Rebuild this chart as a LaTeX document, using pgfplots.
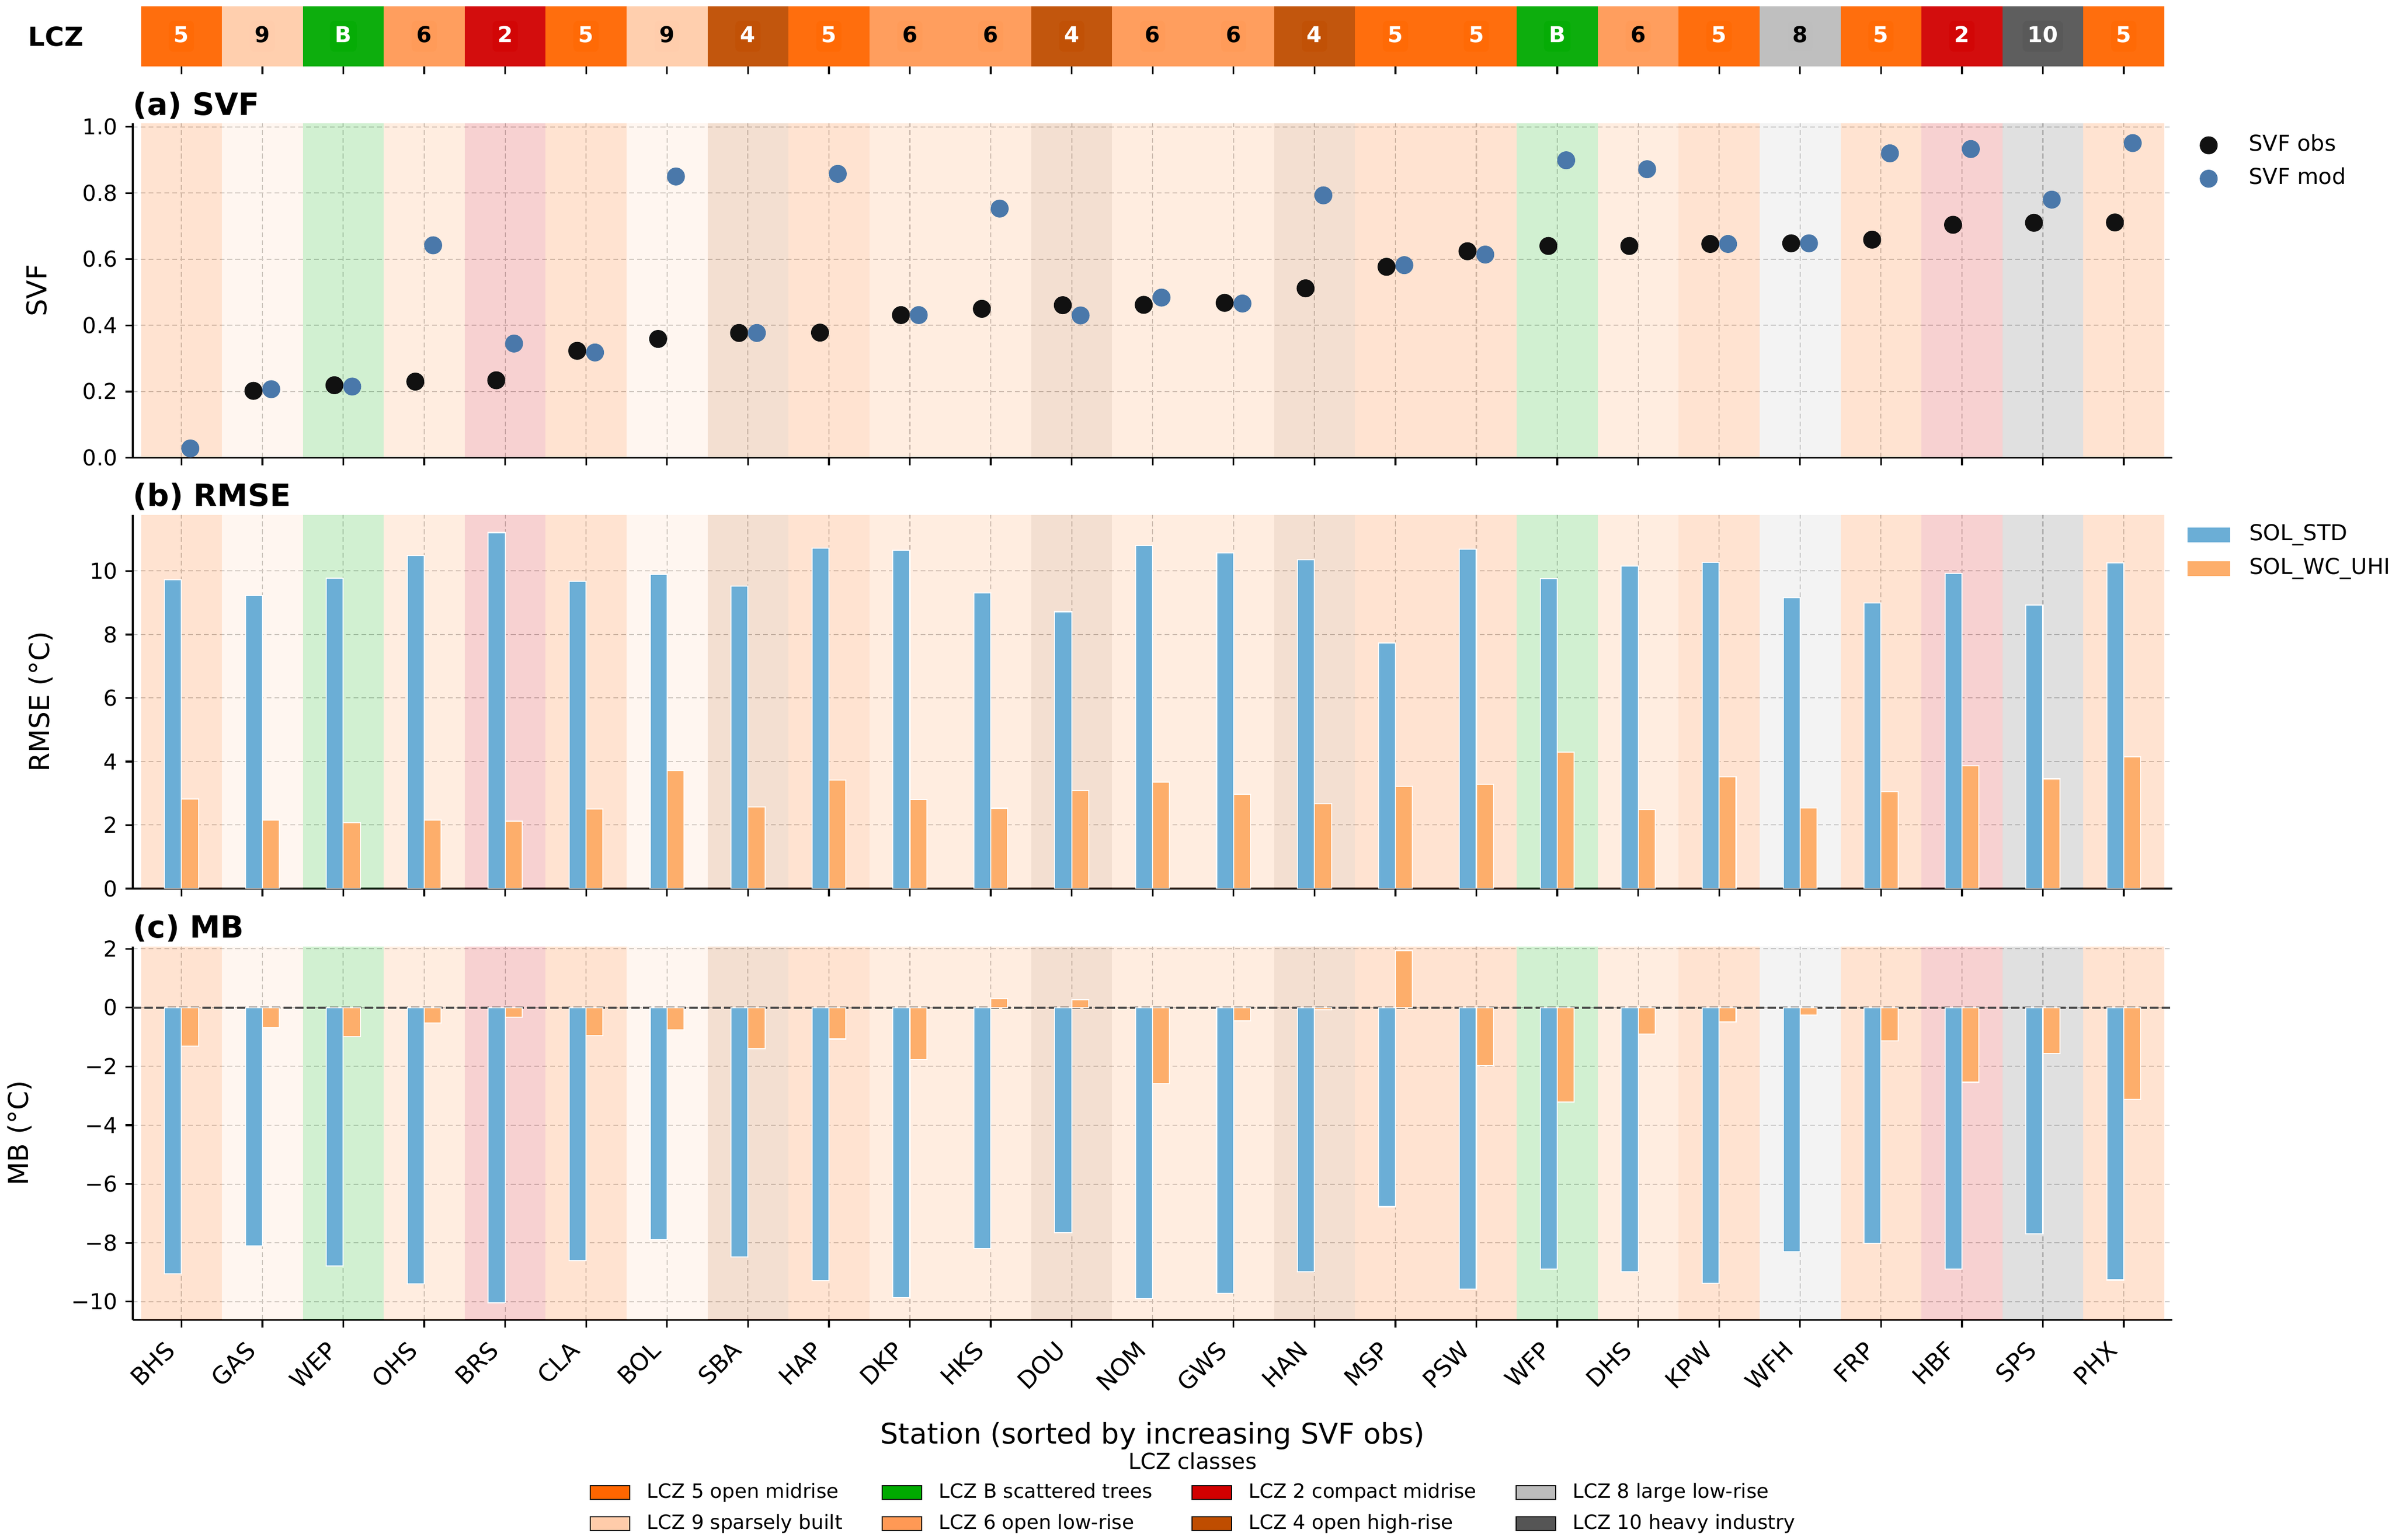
\documentclass[border=0pt]{standalone}
\usepackage{pgfplots}
\pgfplotsset{compat=1.18}
\usepackage{fontspec}
\setmainfont{DejaVu Sans}
\definecolor{lczfive}{HTML}{FF6600}
\definecolor{lcznine}{HTML}{FFCCAA}
\definecolor{lczB}{HTML}{00AA00}
\definecolor{lczsix}{HTML}{FF9955}
\definecolor{lcztwo}{HTML}{D10000}
\definecolor{lczfour}{HTML}{BF4D00}
\definecolor{lczeight}{HTML}{BCBCBC}
\definecolor{lczten}{HTML}{555555}
\definecolor{barblue}{HTML}{6BAED6}
\definecolor{barorange}{HTML}{FDAE6B}
\definecolor{svfobs}{HTML}{111111}
\definecolor{svfmod}{HTML}{4A78AA}
\definecolor{zeroline}{HTML}{444444}

% background band: color, x-left, x-right, opacity, ymin, ymax
\newcommand{\bandrect}[6]{\addplot[forget plot, draw=none, fill=#1, fill opacity=#4] coordinates {(#2,#5) (#3,#5) (#3,#6) (#2,#6)} -- cycle;}
\newcommand{\allbands}[3]{%
 \bandrect{lczfive}{-0.5}{0.5}{#1}{#2}{#3}
 \bandrect{lcznine}{0.5}{1.5}{#1}{#2}{#3}
 \bandrect{lczB}{1.5}{2.5}{#1}{#2}{#3}
 \bandrect{lczsix}{2.5}{3.5}{#1}{#2}{#3}
 \bandrect{lcztwo}{3.5}{4.5}{#1}{#2}{#3}
 \bandrect{lczfive}{4.5}{5.5}{#1}{#2}{#3}
 \bandrect{lcznine}{5.5}{6.5}{#1}{#2}{#3}
 \bandrect{lczfour}{6.5}{7.5}{#1}{#2}{#3}
 \bandrect{lczfive}{7.5}{8.5}{#1}{#2}{#3}
 \bandrect{lczsix}{8.5}{10.5}{#1}{#2}{#3}
 \bandrect{lczfour}{10.5}{11.5}{#1}{#2}{#3}
 \bandrect{lczsix}{11.5}{13.5}{#1}{#2}{#3}
 \bandrect{lczfour}{13.5}{14.5}{#1}{#2}{#3}
 \bandrect{lczfive}{14.5}{16.5}{#1}{#2}{#3}
 \bandrect{lczB}{16.5}{17.5}{#1}{#2}{#3}
 \bandrect{lczsix}{17.5}{18.5}{#1}{#2}{#3}
 \bandrect{lczfive}{18.5}{19.5}{#1}{#2}{#3}
 \bandrect{lczeight}{19.5}{20.5}{#1}{#2}{#3}
 \bandrect{lczfive}{20.5}{21.5}{#1}{#2}{#3}
 \bandrect{lcztwo}{21.5}{22.5}{#1}{#2}{#3}
 \bandrect{lczten}{22.5}{23.5}{#1}{#2}{#3}
 \bandrect{lczfive}{23.5}{24.5}{#1}{#2}{#3}
}

\pgfplotsset{
  panel/.style={
    scale only axis, width=32.767cm,
    xmin=-0.6, xmax=24.6,
    xtick={0,...,24},
    axis x line*=bottom, axis y line*=left,
    axis line style={-, black, line width=0.85pt},
    tick align=outside, major tick length=3.5pt,
    tick style={black, line width=0.8pt},
    xmajorgrids, ymajorgrids,
    major grid style={gray!45, line width=0.5pt, dash pattern=on 2.2pt off 1.4pt},
    tick label style={font=\fontsize{10}{12}\selectfont},
    every axis y label/.style={rotate=90, anchor=center, font=\fontsize{12.5}{15}\selectfont},
    every axis title/.style={at={(0,1)}, anchor=base west, yshift=3.8pt, inner sep=0pt, font=\bfseries\fontsize{14}{17}\selectfont},
  },
  sidelegend/.style={
    legend style={draw=none, fill=none, inner sep=0pt, anchor=north west,
      font=\fontsize{10}{12}\selectfont, row sep=0.185cm,
      nodes={inner sep=0pt, text height=0.75em, text depth=0.25em},
      /tikz/every odd column/.append style={column sep=0.29cm}},
    legend cell align=left,
  },
}

\begin{document}
\begin{tikzpicture}
\useasboundingbox (0,0) rectangle (38.431cm,24.740cm);

% ---------------- LCZ strip ----------------
\begin{axis}[scale only axis, width=32.767cm, height=0.971cm,
  at={(2.135cm,24.642cm)}, anchor=north west,
  xmin=-0.6, xmax=24.6, ymin=0, ymax=1,
  xtick={0,...,24}, xticklabels={}, ytick=\empty,
  axis x line*=bottom, axis y line*=left, axis line style={draw=none},
  tick align=outside, major tick length=3.5pt, xtick style={black, line width=0.8pt},
  ylabel={LCZ},
  every axis y label/.style={at={(axis description cs:-0.0205,0.5)}, anchor=east, font=\bfseries\fontsize{12}{14}\selectfont},
  every node near coord/.append style={anchor=center, font=\bfseries\fontsize{10}{12}\selectfont, inner sep=2.3pt, rounded corners=2pt, text height=0.75em, text depth=0.2em, fill opacity=0.55, text opacity=1},
]
\allbands{0.95}{0}{1}
\addplot[draw=none, mark=none, nodes near coords, point meta=explicit symbolic, every node near coord/.append style={text=white, fill=lczfive}]
  coordinates {(0,0.5)[5] (5,0.5)[5] (8,0.5)[5] (15,0.5)[5] (16,0.5)[5] (19,0.5)[5] (21,0.5)[5] (24,0.5)[5]};
\addplot[draw=none, mark=none, nodes near coords, point meta=explicit symbolic, every node near coord/.append style={text=black, fill=lcznine}]
  coordinates {(1,0.5)[9] (6,0.5)[9]};
\addplot[draw=none, mark=none, nodes near coords, point meta=explicit symbolic, every node near coord/.append style={text=white, fill=lczB}]
  coordinates {(2,0.5)[B] (17,0.5)[B]};
\addplot[draw=none, mark=none, nodes near coords, point meta=explicit symbolic, every node near coord/.append style={text=black, fill=lczsix}]
  coordinates {(3,0.5)[6] (9,0.5)[6] (10,0.5)[6] (12,0.5)[6] (13,0.5)[6] (18,0.5)[6]};
\addplot[draw=none, mark=none, nodes near coords, point meta=explicit symbolic, every node near coord/.append style={text=white, fill=lcztwo}]
  coordinates {(4,0.5)[2] (22,0.5)[2]};
\addplot[draw=none, mark=none, nodes near coords, point meta=explicit symbolic, every node near coord/.append style={text=white, fill=lczfour}]
  coordinates {(7,0.5)[4] (11,0.5)[4] (14,0.5)[4]};
\addplot[draw=none, mark=none, nodes near coords, point meta=explicit symbolic, every node near coord/.append style={text=black, fill=lczeight}]
  coordinates {(20,0.5)[8]};
\addplot[draw=none, mark=none, nodes near coords, point meta=explicit symbolic, every node near coord/.append style={text=white, fill=lczten}]
  coordinates {(23,0.5)[10]};
\end{axis}

% ---------------- (a) SVF ----------------
\begin{axis}[panel, sidelegend, height=5.373cm, at={(2.135cm,22.760cm)}, anchor=north west,
  ymin=0, ymax=1.011,
  ytick={0,0.2,0.4,0.6,0.8,1.0}, yticklabels={0.0,0.2,0.4,0.6,0.8,1.0},
  xticklabels={},
  ylabel={SVF}, ylabel style={at={(axis description cs:-0.0472,0.5)}},
  title={(a) SVF},
  legend style={at={(1.0067,0.968)}},
  legend image code/.code={\path (0cm,0cm) (0.70cm,0cm); \draw[#1] plot coordinates {(0.35cm,0cm)};},
]
\allbands{0.18}{0}{1.011}
\addplot[only marks, mark=*, mark size=3.9pt, color=svfobs, mark options={fill=svfobs, draw=svfobs}]
 coordinates {(0.89,0.202) (1.89,0.219) (2.89,0.230) (3.89,0.234) (4.89,0.323) (5.89,0.359)
 (6.89,0.377) (7.89,0.378) (8.89,0.431) (9.89,0.450) (10.89,0.461) (11.89,0.462) (12.89,0.468)
 (13.89,0.512) (14.89,0.577) (15.89,0.624) (16.89,0.640) (17.89,0.640) (18.89,0.646) (19.89,0.648)
 (20.89,0.659) (21.89,0.704) (22.89,0.710) (23.89,0.711)};
\addlegendentry{SVF obs}
\addplot[only marks, mark=*, mark size=3.9pt, color=svfmod, mark options={fill=svfmod, draw=svfmod}]
 coordinates {(0.11,0.028) (1.11,0.207) (2.11,0.215) (3.11,0.642) (4.11,0.345) (5.11,0.318)
 (6.11,0.850) (7.11,0.377) (8.11,0.858) (9.11,0.431) (10.11,0.753) (11.11,0.430) (12.11,0.484)
 (13.11,0.466) (14.11,0.793) (15.11,0.582) (16.11,0.614) (17.11,0.899) (18.11,0.872) (19.11,0.646)
 (20.11,0.648) (21.11,0.920) (22.11,0.933) (23.11,0.780) (24.11,0.951)};
\addlegendentry{SVF mod}
\end{axis}

% ---------------- (b) RMSE ----------------
\begin{axis}[panel, sidelegend, height=6.005cm, at={(2.135cm,16.470cm)}, anchor=north west,
  ymin=0, ymax=11.77,
  ytick={0,2,4,6,8,10}, yticklabels={0,2,4,6,8,10},
  xticklabels={},
  ylabel={RMSE (°C)}, ylabel style={at={(axis description cs:-0.0453,0.5)}},
  title={(b) RMSE},
  legend style={at={(1.0067,0.976)}},
  legend image code/.code={\fill[#1] (0cm,-0.127cm) rectangle (0.70cm,0.127cm);},
]
\allbands{0.18}{0}{11.77}
\addplot[ybar, bar width=0.21, bar shift=-0.105, fill=barblue, draw=white, line width=0.5pt]
 coordinates {(0,9.72) (1,9.22) (2,9.77) (3,10.49) (4,11.21) (5,9.68) (6,9.89) (7,9.53) (8,10.72)
 (9,10.66) (10,9.31) (11,8.72) (12,10.80) (13,10.57) (14,10.35) (15,7.74) (16,10.69) (17,9.75)
 (18,10.15) (19,10.27) (20,9.16) (21,8.99) (22,9.92) (23,8.93) (24,10.25)};
\addlegendentry{SOL\_STD}
\addplot[ybar, bar width=0.21, bar shift=0.105, fill=barorange, draw=white, line width=0.5pt]
 coordinates {(0,2.82) (1,2.15) (2,2.07) (3,2.16) (4,2.12) (5,2.51) (6,3.71) (7,2.57) (8,3.42)
 (9,2.80) (10,2.53) (11,3.09) (12,3.35) (13,2.97) (14,2.67) (15,3.22) (16,3.29) (17,4.30)
 (18,2.49) (19,3.52) (20,2.54) (21,3.06) (22,3.87) (23,3.46) (24,4.15)};
\addlegendentry{SOL\_WC\_UHI}
\end{axis}

% ---------------- (c) MB ----------------
\begin{axis}[panel, height=6.000cm, at={(2.135cm,9.536cm)}, anchor=north west,
  ymin=-10.62, ymax=2.08,
  ytick={-10,-8,-6,-4,-2,0,2}, yticklabels={−10,−8,−6,−4,−2,0,2},
  xticklabels={BHS,GAS,WEP,OHS,BRS,CLA,BOL,SBA,HAP,DKP,HKS,DOU,NOM,GWS,HAN,MSP,PSW,WFP,DHS,KPW,WFH,FRP,HBF,SPS,PHX},
  xticklabel style={font=\fontsize{11}{13}\selectfont, inner sep=0pt, anchor=base east, xshift=-2.2pt, yshift=-11.1pt, rotate=45},
  ylabel={MB (°C)}, ylabel style={at={(axis description cs:-0.0556,0.5)}},
  xlabel={Station (sorted by increasing SVF obs)},
  every axis x label/.style={at={(axis description cs:0.5,-0.332)}, anchor=base, font=\fontsize{13}{15}\selectfont},
  title={(c) MB},
]
\allbands{0.18}{-10.62}{2.08}
\addplot[forget plot, zeroline, line width=1pt, dash pattern=on 3.7pt off 1.6pt] coordinates {(-0.6,0) (24.6,0)};
\addplot[ybar, bar width=0.21, bar shift=-0.105, fill=barblue, draw=white, line width=0.5pt]
 coordinates {(0,-9.05) (1,-8.10) (2,-8.79) (3,-9.39) (4,-10.04) (5,-8.61) (6,-7.89) (7,-8.48)
 (8,-9.28) (9,-9.86) (10,-8.19) (11,-7.65) (12,-9.89) (13,-9.71) (14,-8.99) (15,-6.77) (16,-9.57)
 (17,-8.89) (18,-8.99) (19,-9.38) (20,-8.31) (21,-8.01) (22,-8.89) (23,-7.69) (24,-9.26)};
\addplot[ybar, bar width=0.21, bar shift=0.105, fill=barorange, draw=white, line width=0.5pt]
 coordinates {(0,-1.32) (1,-0.68) (2,-0.99) (3,-0.52) (4,-0.32) (5,-0.96) (6,-0.75) (7,-1.41)
 (8,-1.07) (9,-1.76) (10,0.30) (11,0.26) (12,-2.58) (13,-0.46) (14,-0.08) (15,1.93) (16,-1.98)
 (17,-3.21) (18,-0.90) (19,-0.49) (20,-0.25) (21,-1.14) (22,-2.54) (23,-1.56) (24,-3.12)};
\end{axis}

% ---------------- LCZ classes legend ----------------
\begin{axis}[hide axis, scale only axis, width=38.431cm, height=24.740cm, at={(0cm,0cm)}, anchor=south west,
  xmin=0, xmax=1, ymin=0, ymax=1,
  legend columns=2, transpose legend, legend cell align=left,
  legend style={at={(axis description cs:0.4986,0.0207)}, anchor=center, draw=none, fill=none, inner sep=0pt,
    font=\fontsize{9}{11}\selectfont, row sep=4.2pt,
    nodes={inner sep=0pt, text height=0.75em, text depth=0.25em},
    /tikz/every odd column/.append style={column sep=0.27cm},
    /tikz/every even column/.append style={column sep=0.63cm}},
  legend image code/.code={\fill[#1] (0cm,-0.11cm) rectangle (0.635cm,0.11cm);},
]
\addlegendimage{fill=lczfive}\addlegendentry{LCZ 5 open midrise}
\addlegendimage{fill=lcznine}\addlegendentry{LCZ 9 sparsely built}
\addlegendimage{fill=lczB}\addlegendentry{LCZ B scattered trees}
\addlegendimage{fill=lczsix}\addlegendentry{LCZ 6 open low-rise}
\addlegendimage{fill=lcztwo}\addlegendentry{LCZ 2 compact midrise}
\addlegendimage{fill=lczfour}\addlegendentry{LCZ 4 open high-rise}
\addlegendimage{fill=lczeight}\addlegendentry{LCZ 8 large low-rise}
\addlegendimage{fill=lczten}\addlegendentry{LCZ 10 heavy industry}
\end{axis}
\node[anchor=base, font=\fontsize{10}{12}\selectfont, inner sep=0pt] at (19.16cm,1.14cm) {LCZ classes};
\end{tikzpicture}
\end{document}
